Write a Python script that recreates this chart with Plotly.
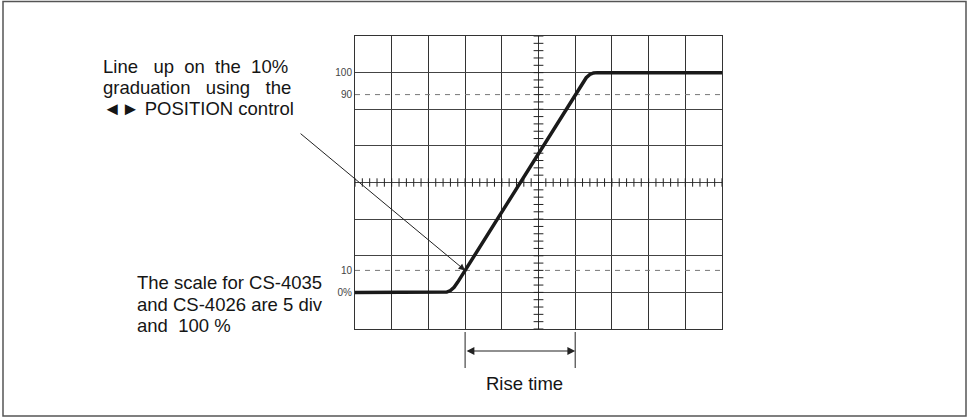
import plotly.graph_objects as go

# ---- data (graticule divisions) ----
wave_x = [0, 2.35, 2.5, 2.6, 2.7, 2.8, 3.0, 6.0, 6.2, 6.3, 6.4, 6.5, 6.6, 10]
wave_y = [-3, -3, -2.99, -2.95, -2.86, -2.72, -2.4, 2.4, 2.72, 2.86, 2.95, 2.99, 3, 3]

level_vals = [-3, -2.4, 2.4, 3]
level_text = ["0%", "10", "90", "100"]
dashed_levels = [-2.4, 2.4]

rise_start = 3.0
rise_end = 6.0

minor_ticks = [i / 5 for i in range(51)]          # along horizontal centre line
minor_ticks_v = [-4 + i / 5 for i in range(41)]   # along vertical centre line

W, H = 969, 419
x_dom = [355 / W, 722 / W]
y_dom = [1 - 329 / H, 1 - 36 / H]

FONT = "Liberation Sans, Arial, sans-serif"
TXT = "#151515"
fig = go.Figure()

# dashed 10 / 90 lines
for lv in dashed_levels:
    fig.add_trace(go.Scatter(x=[0, 10], y=[lv, lv], mode="lines",
                             line=dict(color="#777", width=1, dash="5px,5px"),
                             hoverinfo="skip", showlegend=False))

# centre-line minor ticks
fig.add_trace(go.Scatter(x=minor_ticks, y=[0] * len(minor_ticks), mode="markers",
                         marker=dict(symbol="line-ns", size=6,
                                     line=dict(color="#222", width=1)),
                         hoverinfo="skip", showlegend=False))
fig.add_trace(go.Scatter(x=[5] * len(minor_ticks_v), y=minor_ticks_v, mode="markers",
                         marker=dict(symbol="line-ew", size=7,
                                     line=dict(color="#222", width=1)),
                         hoverinfo="skip", showlegend=False))

# waveform
fig.add_trace(go.Scatter(x=wave_x, y=wave_y, mode="lines",
                         line=dict(color="#1a1a1a", width=3.5),
                         hoverinfo="skip", showlegend=False))

# level labels on an overlaid axis
fig.add_trace(go.Scatter(x=[None], y=[None], yaxis="y2", showlegend=False))

fig.update_layout(
    width=W, height=H, autosize=False,
    margin=dict(l=0, r=0, t=0, b=0),
    paper_bgcolor="white", plot_bgcolor="white",
    font=dict(family=FONT, color=TXT),
    xaxis=dict(domain=x_dom, range=[0, 10], dtick=1, tick0=0,
               showgrid=True, gridcolor="#333", gridwidth=1,
               showline=True, linecolor="#333", linewidth=1, mirror=True,
               showticklabels=False, ticks="", zeroline=False, fixedrange=True),
    yaxis=dict(domain=y_dom, range=[-4, 4], dtick=1, tick0=0,
               showgrid=True, gridcolor="#444", gridwidth=1,
               showline=True, linecolor="#333", linewidth=1, mirror=True,
               showticklabels=False, ticks="", zeroline=False, fixedrange=True),
    yaxis2=dict(overlaying="y", range=[-4, 4], tickvals=level_vals, ticktext=level_text,
                showgrid=False, zeroline=False, ticks="", side="left",
                tickfont=dict(family="Liberation Sans Narrow, Liberation Sans, sans-serif",
                              size=10, color="#444"),
                ticklabelstandoff=2, fixedrange=True),
)

# outer frame
fig.add_shape(type="rect", xref="paper", yref="paper",
              x0=3 / W, x1=966 / W, y0=1 - 416 / H, y1=1 - 1.5 / H,
              line=dict(color="#555", width=1.5))

# rise-time bracket
for xv in (rise_start, rise_end):
    fig.add_shape(type="line", xref="x", yref="paper", x0=xv, x1=xv,
                  y0=1 - 368 / H, y1=1 - 332 / H, line=dict(color="#222", width=1))
fig.add_annotation(x=rise_end, y=1 - 351 / H, xref="x", yref="paper",
                   ax=rise_start, ay=0, axref="x", ayref="pixel",
                   text="", showarrow=True, arrowside="end+start",
                   arrowhead=2, arrowsize=1.3, arrowwidth=1.2, arrowcolor="#222",
                   standoff=0, startstandoff=0)
fig.add_annotation(x=(rise_start + rise_end) / 2 + 0.12, y=1 - 383.5 / H, xref="x", yref="paper",
                   text="Rise time", showarrow=False, font=dict(size=18.5),
                   xanchor="center", yanchor="middle")

# pointer arrow to the 10 % crossing
fig.add_annotation(x=rise_start, y=-2.4, xref="x", yref="y", ax=-166, ay=-138,
                   text="", showarrow=True, arrowhead=2, arrowsize=1.3,
                   arrowwidth=1, arrowcolor="#222", standoff=0)

# text blocks
nb = "\u00a0"
top_lines = [
    ("Line" + nb * 3 + "up" + nb * 2 + "on" + nb * 2 + "the" + nb * 2 + "10%", 66.2),
    ("graduation" + nb * 3 + "using" + nb * 3 + "the", 87.2),
    ("\u25c4\u25ba" + nb + "POSITION control", 108.2),
]
for txt, yc in top_lines:
    fig.add_annotation(x=101 / W, y=1 - yc / H, xref="paper", yref="paper",
                       text=txt, showarrow=False, font=dict(size=18.5),
                       xanchor="left", yanchor="middle")

bottom_lines = [
    ("The scale for CS-4035", 282.5),
    ("and CS-4026 are 5 div", 304.5),
    ("and" + nb * 2 + "100" + nb + "%", 325.5),
]
for txt, yc in bottom_lines:
    fig.add_annotation(x=135 / W, y=1 - yc / H, xref="paper", yref="paper",
                       text=txt, showarrow=False, font=dict(size=18.5),
                       xanchor="left", yanchor="middle")

fig.write_html("out.html", config={"displayModeBar": False},
               post_script="document.body.style.margin='0';document.body.style.overflow='hidden';")
